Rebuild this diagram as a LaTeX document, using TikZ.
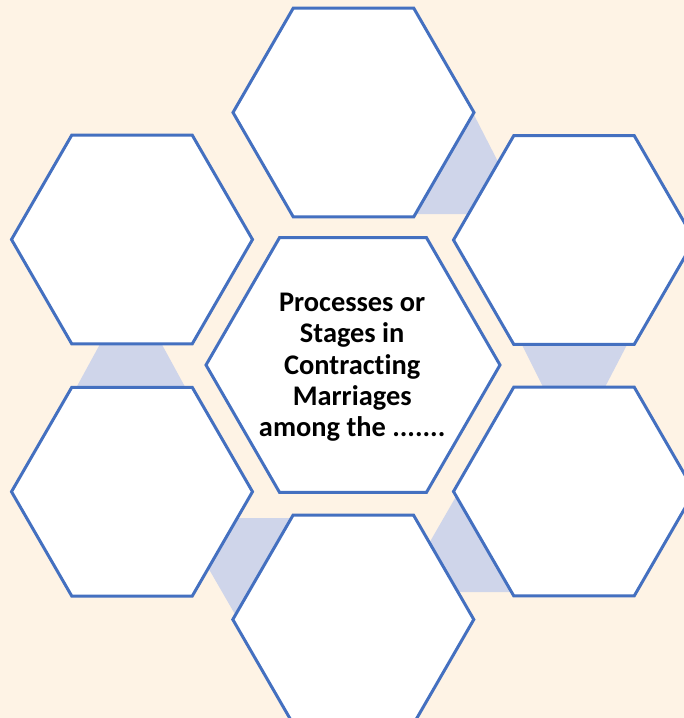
\documentclass[tikz,border=0pt]{standalone}
\usepackage{fontspec}
\setmainfont{Carlito}[Ligatures=NoCommon]
\usetikzlibrary{shapes.geometric,calc}
\definecolor{bgcream}{HTML}{FEF3E5}
\definecolor{hexblue}{HTML}{4470C0}
\definecolor{bandblue}{HTML}{CFD5EA}
\begin{document}
\begin{tikzpicture}[x=1pt,y=-1pt,
  hexbox/.style={regular polygon, regular polygon sides=6, minimum size=241pt,
    inner sep=0pt, outer sep=0pt, draw=hexblue, line width=3pt, fill=white, line join=miter},
  bighex/.style={hexbox, minimum size=294pt},
  band/.style={fill=bandblue, draw=none},
  maintext/.style={font=\fontsize{28.4}{31.2}\selectfont\bfseries, align=center, inner sep=0pt, text=black}]
\useasboundingbox (0,0) rectangle (684,718);
\fill[bgcream] (0,0) rectangle (684,718);
\clip (0,0) rectangle (684,718);
% centres
\coordinate (cT)  at (353.5,112.5);
\coordinate (cUR) at (574,240);
\coordinate (cLR) at (574,491.5);
\coordinate (cB)  at (353.3,619.5);
\coordinate (cLL) at (132,491.7);
\coordinate (cUL) at (132,239.5);
\coordinate (cC)  at (353,365);
% bands between neighbouring hexagons
\fill[band] ($(cT)+(118.5,-1.5)$) -- ($(cT)+(166.7,92.5)$) -- ($(cT)+(146.5,101.5)$) -- ($(cT)+(60.5,101.5)$) -- cycle;
\fill[band] ($(cUR)+(-54.5,100)$) -- ($(cUR)+(55.5,100)$) -- ($(cUR)+(29.5,150)$) -- ($(cUR)+(-29.5,150)$) -- cycle;
\fill[band] ($(cLR)+(-115.1,0)$) -- ($(cLR)+(-163.2,83.5)$) -- ($(cLR)+(-144,100.5)$) -- ($(cLR)+(-54,100.5)$) -- cycle;
\fill[band] ($(cB)+(-115,0.5)$) -- ($(cB)+(-160.6,-78.5)$) -- ($(cB)+(-146.3,-101.5)$) -- ($(cB)+(-58.3,-101.5)$) -- cycle;
\fill[band] ($(cLL)+(-29.8,-151.7)$) -- ($(cLL)+(27.5,-151.7)$) -- ($(cLL)+(55.3,-100.7)$) -- ($(cLL)+(-57.6,-100.7)$) -- cycle;
% hexagons
\node[hexbox] (top) at (cT) {};
\node[hexbox] (upright) at (cUR) {};
\node[hexbox] (lowright) at (cLR) {};
\node[hexbox] (bottom) at (cB) {};
\node[hexbox] (lowleft) at (cLL) {};
\node[hexbox] (upleft) at (cUL) {};
\node[bighex] (centre) at (cC) {};
\node[maintext] (centretext) at (352.2,367.2) {Processes or\\Stages in\\Contracting\\Marriages\\among the .......};
\end{tikzpicture}
\end{document}
